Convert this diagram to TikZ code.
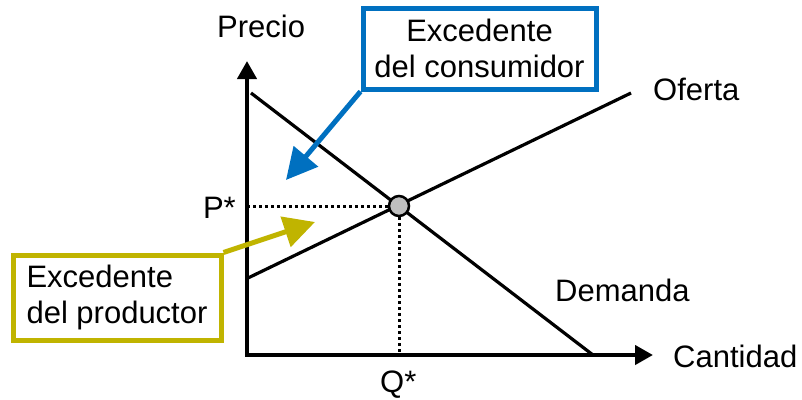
\documentclass[tikz,border=0pt]{standalone}
\usepackage{fontspec}
\setmainfont{Liberation Sans}
\usetikzlibrary{arrows.meta}
\definecolor{consblue}{RGB}{0,112,192}
\definecolor{prodyellow}{RGB}{192,180,0}
\tikzset{
	lbl/.style={inner sep=0pt, anchor=base west},
	axis/.style={line width=4.2pt, {Triangle[length=18pt,width=19pt]}-{Triangle[length=18pt,width=19pt]}},
	curve/.style={line width=3.2pt},
	guide/.style={line width=3pt, dash pattern=on 3pt off 3pt},
	surplus/.style={draw=#1, line width=5pt, inner sep=0pt, fill=white},
	pointer/.style={draw=#1, fill=#1, line width=5pt, -{Triangle[length=31pt,width=31pt]}}
}
\begin{document}
\begin{tikzpicture}[x=1pt, y=-1pt, font=\fontsize{31}{36}\selectfont]
	\useasboundingbox (0,0) rectangle (802,399);
	\coordinate (O) at (247,355);
	\coordinate (ytop) at (247,61);
	\coordinate (xend) at (653,355);
	\draw[axis] (ytop) -- (O) -- (xend);
	\draw[curve] (251,93) coordinate (dtop) -- (593,355) coordinate (dend);
	\draw[curve] (248,278) coordinate (sbot) -- (631,93) coordinate (send);
	\node[circle, draw, fill=gray!50, line width=2.5pt, minimum size=20pt, inner sep=0pt] (eq) at (399,206) {};
	\draw[guide] (ytop |- eq) -- (eq.west);
	\draw[guide] (eq.south) -- (eq |- O);
	\node[lbl] (precio) at (217,37) {Precio};
	\node[lbl] (cantidad) at (673,367) {Cantidad};
	\node[lbl] (oferta) at (653,100) {Oferta};
	\node[lbl] (demanda) at (555,301) {Demanda};
	\node[lbl, anchor=base east] (pstar) at (236,218) {P*};
	\node[lbl] (qstar) at (380,392) {Q*};
	\coordinate (ctip) at (286,180);
	\coordinate (ptip) at (315,222);
	\node[surplus=consblue, minimum width=233pt, minimum height=81pt, align=center] (cons) at (479.5,48.5) {Excedente\\del consumidor};
	\node[surplus=prodyellow, minimum width=208pt, minimum height=85pt, align=left] (prod) at (117,297.5) {Excedente\\del productor};
	\draw[pointer=consblue] (cons.south west) -- (ctip);
	\draw[pointer=prodyellow] (prod.north east) -- (ptip);
\end{tikzpicture}
\end{document}
